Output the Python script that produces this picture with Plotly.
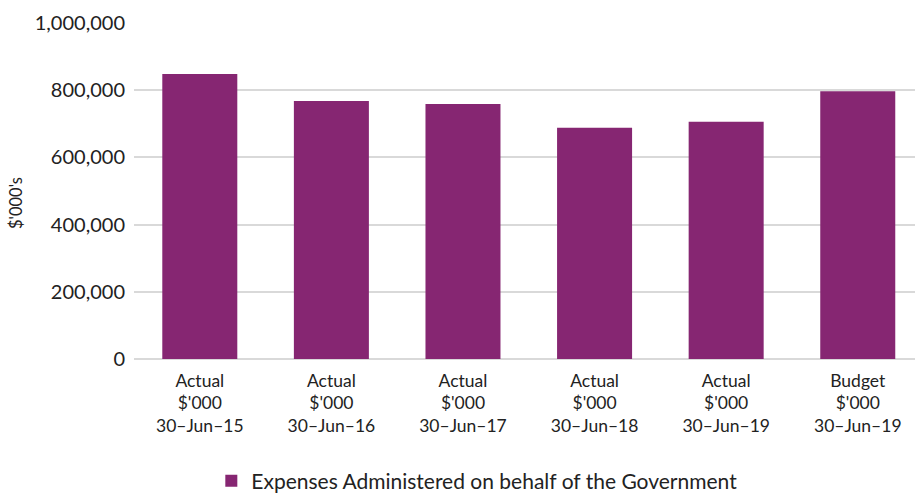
import plotly.graph_objects as go

categories = [
    "Actual<br>$'000<br>30–Jun–15",
    "Actual<br>$'000<br>30–Jun–16",
    "Actual<br>$'000<br>30–Jun–17",
    "Actual<br>$'000<br>30–Jun–18",
    "Actual<br>$'000<br>30–Jun–19",
    "Budget<br>$'000<br>30–Jun–19",
]
expenses = [848000, 768000, 759000, 688000, 706000, 797000]
series_name = "Expenses Administered on behalf of the Government"
y_ticks = [0, 200000, 400000, 600000, 800000, 1000000]
y_title = "$'000's"

FONT = "Lato"
COLOR = "#862672"
TXT = "#222222"

fig = go.Figure()
fig.add_trace(go.Bar(
    x=list(range(len(categories))),
    y=expenses,
    name=series_name,
    marker=dict(color=COLOR, line=dict(width=0)),
    showlegend=True,
))

fig.update_layout(
    width=915, height=493,
    margin=dict(l=134, r=0, t=23, b=134),
    paper_bgcolor="white", plot_bgcolor="white",
    font=dict(family=FONT, size=17, color=TXT),
    bargap=0.43,
    showlegend=True,
    legend=dict(orientation="h", xref="paper", x=0.099, xanchor="left",
                yref="container", y=(493 - 481) / 493, yanchor="middle",
                font=dict(family=FONT, size=21, color=TXT), itemwidth=30),
    xaxis=dict(
        range=[-0.5, 5.435], automargin=False,
        tickmode="array", tickvals=list(range(len(categories))), ticktext=categories,
        showgrid=False, zeroline=False, showline=False, ticks="",
        ticklabelstandoff=9,
        tickfont=dict(family=FONT, size=17.5, color=TXT),
    ),
    yaxis=dict(
        range=[0, 1000000], automargin=False,
        tickmode="array", tickvals=y_ticks,
        ticktext=[f"{v:,}" for v in y_ticks],
        showgrid=True, gridcolor="#d9d9d9", gridwidth=1.5,
        zeroline=True, zerolinecolor="#d9d9d9", zerolinewidth=1.5,
        showline=False, ticks="", ticklabelstandoff=8,
        tickfont=dict(family=FONT, size=20, color=TXT),
    ),
    annotations=[dict(
        text=y_title, textangle=-90, showarrow=False,
        xref="paper", yref="paper", x=(16 - 134) / 781, y=(359 - 203) / 336,
        xanchor="center", yanchor="middle",
        font=dict(family=FONT, size=16.5, color=TXT),
    )],
)

fig.write_html("out.html")
